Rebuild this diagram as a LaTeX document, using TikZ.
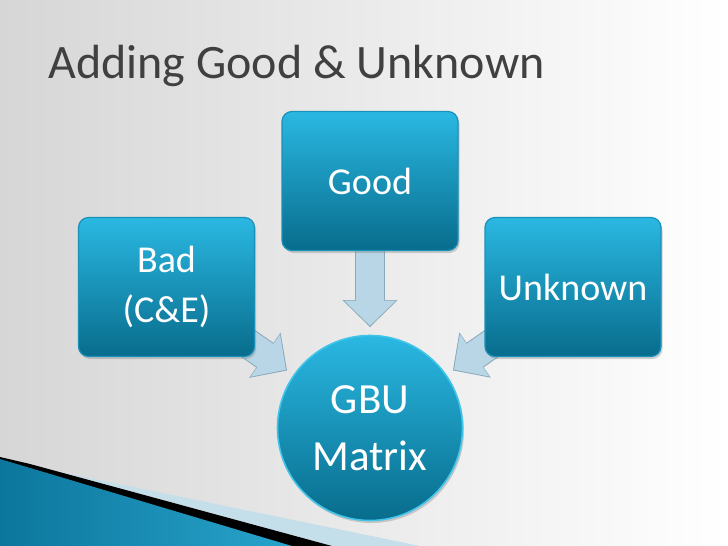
\documentclass[tikz,border=0pt]{standalone}
\usepackage{fontspec}
\setmainfont{Carlito}
\usetikzlibrary{positioning,arrows.meta,shadows}
\definecolor{BgGray}{RGB}{214,214,214}
\definecolor{BgMid}{RGB}{236,236,236}
\definecolor{TitleGray}{RGB}{64,64,64}
\definecolor{BoxTop}{RGB}{42,184,226}
\definecolor{BoxBottom}{RGB}{8,108,140}
\definecolor{BoxEdge}{RGB}{24,146,186}
\definecolor{RingEdge}{RGB}{64,196,234}
\definecolor{ArrowFill}{RGB}{184,214,230}
\definecolor{ArrowLine}{RGB}{138,169,186}
\definecolor{BandBlue}{RGB}{12,118,156}
\definecolor{BandLight}{RGB}{40,164,204}
\definecolor{BandPale}{RGB}{196,222,234}
\pgfdeclarelayer{bg}
\pgfdeclarelayer{arrows}
\pgfsetlayers{bg,arrows,main}
\tikzset{
  gbubox/.style={draw=BoxEdge,line width=1.2pt,top color=BoxTop,bottom color=BoxBottom,
    rounded corners=10pt,minimum width=176pt,minimum height=139pt,align=center,
    text=white,font=\fontsize{38}{50}\selectfont,
    drop shadow={opacity=0.35,shadow xshift=1.5pt,shadow yshift=-2.5pt}},
  gbucircle/.style={circle,draw=RingEdge,line width=1.6pt,top color=BoxTop,bottom color=BoxBottom,
    minimum size=185pt,inner sep=0pt,align=center,text=white,
    font=\fontsize{43}{57}\selectfont,
    drop shadow={opacity=0.35,shadow xshift=1.5pt,shadow yshift=-2.5pt}},
  fatarrow/.style={draw=ArrowFill,line width=28pt,shorten >=9pt,
    -{Triangle[width=50pt,length=25pt]},
    preaction={draw=ArrowLine,line width=30pt,shorten >=7.6pt,
      -{Triangle[width=53.5pt,length=27pt]}}}
}

\begin{document}
\begin{tikzpicture}[x=1pt,y=-1pt]
  \useasboundingbox (0,0) rectangle (728,546);
  % slide background
  \begin{pgfonlayer}{bg}
    \shade[left color=BgGray,middle color=BgMid,right color=white] (0,0) rectangle (728,546);
    \fill[BandPale] (60,472) -- (420,546) -- (332,546) -- cycle;
    \fill[black] (0,457) -- (30,464) -- (332,546) -- (0,546) -- cycle;
    \shade[left color=BandBlue,right color=BandLight] (0,459) -- (292,546) -- (0,546) -- cycle;
  \end{pgfonlayer}

  \node[anchor=base west,text=TitleGray,font=\fontsize{48}{58}\selectfont] (title) at (45,78) {Adding Good \& Unknown};

  \node[gbubox] (good) at (370,181) {Good};
  \node[gbubox] (bad) at (166.5,287) {Bad\\(C\&E)};
  \node[gbubox] (unknown) at (573,287) {Unknown};
  \node[gbucircle] (gbu) at (370,428) {GBU\\Matrix};

  \begin{pgfonlayer}{arrows}
    \draw[fatarrow] (good.center) -- (gbu);
    \draw[fatarrow] (bad.center) -- (gbu);
    \draw[fatarrow] (unknown.center) -- (gbu);
  \end{pgfonlayer}
\end{tikzpicture}
\end{document}
